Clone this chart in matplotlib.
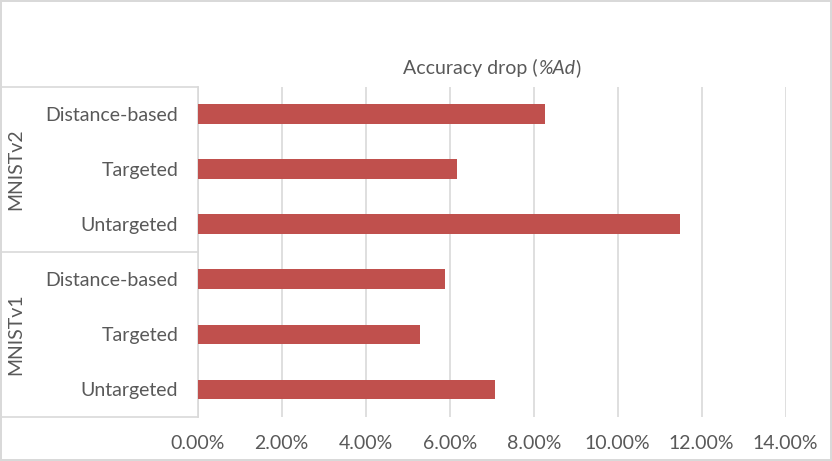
import matplotlib
matplotlib.use("Agg")
import matplotlib.pyplot as plt
from matplotlib.ticker import PercentFormatter
from matplotlib.transforms import blended_transform_factory
from matplotlib.offsetbox import TextArea, HPacker, AnchoredOffsetbox

# データ (下から上の順)
attacks = ["Untargeted", "Targeted", "Distance-based"]
groups = ["MNISTv1", "MNISTv2"]
mnist_v1 = [7.07, 5.29, 5.89]
mnist_v2 = [11.48, 6.18, 8.26]
x_ticks = [0, 2, 4, 6, 8, 10, 12, 14]

bar_color = "#C0504D"
text_color = "#595959"
grid_color = "#D9D9D9"
fs = 14

plt.rcParams['font.family'] = ['Lato', 'DejaVu Sans']

W, H = 832, 461
fig = plt.figure(figsize=(W / 100, H / 100), dpi=100)
fig.patch.set_edgecolor(grid_color)
fig.patch.set_linewidth(1.5)

# 軸の位置 (ピクセルから換算)
left, right, top, bottom = 197.7, 785.7, 86.7, 417
ax = fig.add_axes([left / W, 1 - bottom / H, (right - left) / W, (bottom - top) / H])

labels = attacks + attacks
values = mnist_v1 + mnist_v2
ypos = list(range(len(values)))
ax.barh(ypos, values, height=0.36, color=bar_color, zorder=3)

ax.set_xlim(0, 14)
ax.set_ylim(-0.5, len(values) - 0.5)
ax.set_xticks(x_ticks)
ax.xaxis.set_major_formatter(PercentFormatter(decimals=2))
ax.set_yticks(ypos)
ax.set_yticklabels(labels)
ax.tick_params(axis='both', length=0, colors=text_color, labelsize=fs)
ax.tick_params(axis='y', pad=14)
ax.tick_params(axis='x', pad=13)
ax.grid(axis='x', color=grid_color, linewidth=1.2, zorder=0)
for s in ["top", "right", "bottom"]:
    ax.spines[s].set_visible(False)
ax.spines["left"].set_color(grid_color)
ax.spines["left"].set_linewidth(1.2)

# グループ区切り線とラベル
trans = blended_transform_factory(ax.transAxes, ax.transData)
x0 = -(left - 2) / (right - left)
n = len(attacks)
for k in range(len(groups) + 1):
    y = k * n - 0.5
    ax.plot([x0, 0], [y, y], color=grid_color, linewidth=1.2, transform=trans, clip_on=False)
for k, g in enumerate(groups):
    ax.text(-(left - 16) / (right - left), k * n + (n - 1) / 2, g, transform=trans,
            rotation=90, ha='center', va='center', color=text_color, fontsize=fs)

# タイトル (一部イタリック)
parts = [TextArea("Accuracy drop (", textprops=dict(color=text_color, fontsize=fs)),
         TextArea("%Ad", textprops=dict(color=text_color, fontsize=fs, style='italic')),
         TextArea(")", textprops=dict(color=text_color, fontsize=fs))]
box = HPacker(children=parts, align="baseline", pad=0, sep=0)
anchored = AnchoredOffsetbox(loc='lower center', child=box, pad=0, frameon=False,
                             bbox_to_anchor=(0.5, 1.03), bbox_transform=ax.transAxes,
                             borderpad=0)
ax.add_artist(anchored)

fig.savefig("out.png", dpi=100)
